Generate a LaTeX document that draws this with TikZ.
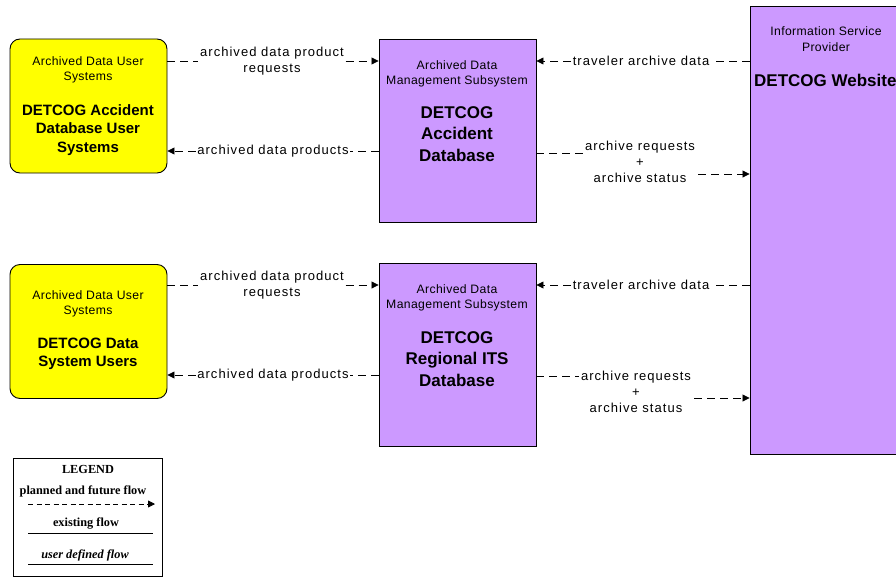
\documentclass[tikz,border=0pt]{standalone}
\usepackage{fontspec}
\setmainfont{Liberation Sans}
\newfontfamily\legendfont{Liberation Serif}
\newfontfamily\labfont[LetterSpace=8]{Liberation Sans}
\newfontfamily\boxfont[LetterSpace=3]{Liberation Sans}
\usetikzlibrary{arrows.meta}
\definecolor{ylw}{RGB}{255,255,0}
\definecolor{prp}{RGB}{204,153,255}
\tikzset{
  ubox/.style={draw=black,line width=0.9pt,fill=ylw,rounded corners=10pt,minimum width=157pt,minimum height=134pt,inner sep=0pt},
  sbox/.style={draw=black,line width=0.9pt,fill=prp,minimum width=157pt,minimum height=183pt,inner sep=0pt},
  smalltxt/.style={align=center,inner sep=0pt,font=\fontsize{12.2}{15.5}\boxfont},
  boldtxt/.style={align=center,inner sep=0pt,font=\fontsize{15}{18.5}\selectfont\bfseries},
  bigtxt/.style={align=center,inner sep=0pt,font=\fontsize{17}{21.5}\selectfont\bfseries},
  flowlab/.style={align=center,fill=white,inner sep=1.5pt,font=\fontsize{13}{16}\labfont},
  dline/.style={line width=0.8pt,dash pattern=on 8pt off 5pt},
  flow/.style={dline,-{Triangle[length=7pt,width=7pt]}},
  legtxt/.style={inner sep=0pt,font=\fontsize{12.3}{13}\legendfont\bfseries},
}
\begin{document}
\begin{tikzpicture}[x=1pt,y=-1pt]
\useasboundingbox (0,0) rectangle (896,578);
% boxes
\node[ubox] (u1) at (88.5,106) {};
\node[ubox] (u2) at (88.5,331.5) {};
\node[sbox] (d1) at (457.5,130.5) {};
\node[sbox] (d2) at (457.5,355) {};
\node[draw=black,line width=0.9pt,fill=prp,minimum width=160pt,minimum height=448pt,inner sep=0pt] (w) at (830,230) {};
% box texts
\node[smalltxt] (u1a) at (88,70) {Archived Data User\\Systems};
\node[boldtxt] (u1b) at (88,130) {DETCOG Accident\\Database User\\Systems};
\node[smalltxt] (u2a) at (88,304) {Archived Data User\\Systems};
\node[boldtxt] (u2b) at (88,354) {DETCOG Data\\System Users};
\node[smalltxt] (d1a) at (457,74) {Archived Data\\Management Subsystem};
\node[bigtxt] (d1b) at (457,134) {DETCOG\\Accident\\Database};
\node[smalltxt] (d2a) at (457,298) {Archived Data\\Management Subsystem};
\node[bigtxt] (d2b) at (457,359) {DETCOG\\Regional ITS\\Database};
\node[smalltxt] (wa) at (826,39) {Information Service\\Provider};
\node[bigtxt,anchor=west] (wb) at (754,80) {DETCOG Website};
% flows, upper group
\node[flowlab] (l1) at (272,61) {archived data product\\requests};
\draw[dline] (u1.east |- l1) -- (l1.west);
\draw[flow] (l1.east) -- (d1.west |- l1);
\node[flowlab] (l2) at (273,151) {archived data products};
\draw[dline] (d1.west |- l2) -- (l2.east);
\draw[flow] (l2.west) -- (u1.east |- l2);
\node[flowlab] (l3) at (641,61) {traveler archive data};
\draw[dline] (w.west |- l3) -- (l3.east);
\draw[flow] (l3.west) -- (d1.east |- l3);
\node[flowlab,fill=none] (l4) at (640,162) {archive requests\\+\\archive status};
\coordinate (l4a) at (l4.west |- 0,153);
\coordinate (l4b) at (698,174);
\draw[dline] (d1.east |- l4a) -- (l4a);
\draw[flow] (l4b) -- (w.west |- l4b);
% flows, lower group
\node[flowlab] (m1) at (272,285) {archived data product\\requests};
\draw[dline] (u2.east |- m1) -- (m1.west);
\draw[flow] (m1.east) -- (d2.west |- m1);
\node[flowlab] (m2) at (273,375) {archived data products};
\draw[dline] (d2.west |- m2) -- (m2.east);
\draw[flow] (m2.west) -- (u2.east |- m2);
\node[flowlab] (m3) at (641,285) {traveler archive data};
\draw[dline] (w.west |- m3) -- (m3.east);
\draw[flow] (m3.west) -- (d2.east |- m3);
\node[flowlab,fill=none] (m4) at (636,392) {archive requests\\+\\archive status};
\coordinate (m4a) at (m4.west |- 0,376);
\coordinate (m4b) at (694,398);
\draw[dline] (d2.east |- m4a) -- (m4a);
\draw[flow] (m4b) -- (w.west |- m4b);
% legend
\node[draw=black,line width=0.9pt,minimum width=149pt,minimum height=118pt,inner sep=0pt] (leg) at (87.5,517) {};
\node[legtxt] (lg1) at (88,469) {LEGEND};
\node[legtxt] (lg2) at (83,491) {planned and future flow};
\coordinate (lga) at (28,504);
\coordinate (lgb) at (155,504);
\draw[flow,dash pattern=on 5pt off 3.5pt] (lga) -- (lgb);
\node[legtxt] (lg3) at (86,524) {existing flow};
\coordinate (lgc) at (28,533);
\coordinate (lgd) at (153,533);
\draw[line width=0.8pt] (lgc) -- (lgd);
\node[legtxt,font=\fontsize{12.3}{13}\legendfont\bfseries\itshape] (lg4) at (85,555) {user defined flow};
\coordinate (lge) at (28,564);
\coordinate (lgf) at (153,564);
\draw[line width=0.8pt] (lge) -- (lgf);
\end{tikzpicture}
\end{document}
